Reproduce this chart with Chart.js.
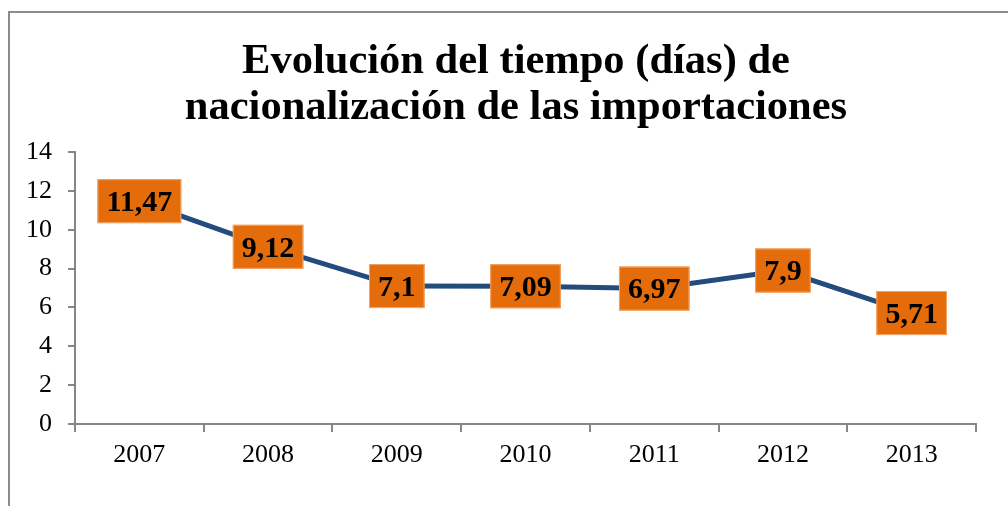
<!DOCTYPE html>
<html lang="es">
<head>
  <meta charset="UTF-8">
  <title>Evolución del tiempo de nacionalización</title>
  <script src="https://cdn.jsdelivr.net/npm/chart.js"></script>
  <style>
    html, body {
      margin: 0;
      padding: 0;
      background: #fff;
      overflow: hidden;
    }
    .frame {
      position: absolute;
      left: 8px;
      top: 11px;
      width: 1100px;
      height: 600px;
      border-left: 2px solid #8c8c8c;
      border-top: 2px solid #8c8c8c;
    }
    .wrap {
      position: absolute;
      left: 0;
      top: 0;
      width: 1008px;
      height: 506px;
    }
  </style>
</head>
<body>
  <div class="frame"></div>
  <div class="wrap"><canvas id="chart"></canvas></div>

  <script>
    const years = ['2007', '2008', '2009', '2010', '2011', '2012', '2013'];
    const days = [11.47, 9.12, 7.1, 7.09, 6.97, 7.9, 5.71];
    const dayLabels = ['11,47', '9,12', '7,1', '7,09', '6,97', '7,9', '5,71'];
    const yTicks = [0, 2, 4, 6, 8, 10, 12, 14];
    const titleLines = ['Evolución del tiempo (días) de', 'nacionalización de las importaciones'];

    const serif = '"Liberation Serif", "Times New Roman", serif';
    const axisGray = '#868686';

    // two-line title, sits a little right of centre like the original
    const titleText = {
      id: 'titleText',
      afterDraw(chart) {
        const ctx = chart.ctx;
        ctx.save();
        ctx.font = 'bold 42.5px ' + serif;
        ctx.fillStyle = '#000';
        ctx.textAlign = 'center';
        ctx.textBaseline = 'alphabetic';
        titleLines.forEach((t, i) => ctx.fillText(t, 516, 73 + i * 46));
        ctx.restore();
      }
    };

    // orange boxes with the values, centred on each point
    const boxLabels = {
      id: 'boxLabels',
      afterDatasetsDraw(chart) {
        const ctx = chart.ctx;
        const meta = chart.getDatasetMeta(0);
        ctx.save();
        ctx.font = 'bold 30px ' + serif;
        ctx.textAlign = 'center';
        ctx.textBaseline = 'middle';
        meta.data.forEach((pt, i) => {
          const txt = dayLabels[i];
          const w = ctx.measureText(txt).width + 18;
          const h = 44;
          ctx.fillStyle = '#E46C0A';
          ctx.fillRect(pt.x - w / 2, pt.y - h / 2, w, h);
          ctx.strokeStyle = '#F2A66A';
          ctx.lineWidth = 1;
          ctx.strokeRect(pt.x - w / 2 + 0.5, pt.y - h / 2 + 0.5, w - 1, h - 1);
          ctx.fillStyle = '#000';
          ctx.fillText(txt, pt.x, pt.y + 2);
        });
        ctx.restore();
      }
    };

    new Chart(document.getElementById('chart'), {
      type: 'line',
      data: {
        labels: years,
        datasets: [{
          data: days,
          borderColor: '#234B7E',
          borderWidth: 5,
          pointRadius: 0,
          tension: 0,
          fill: false
        }]
      },
      options: {
        responsive: true,
        maintainAspectRatio: false,
        animation: false,
        layout: { padding: { left: 0, right: 32, top: 152, bottom: 0 } },
        plugins: {
          legend: { display: false },
          tooltip: { enabled: false },
          title: { display: false }
        },
        scales: {
          x: {
            offset: true,
            grid: { offset: true, drawOnChartArea: false, tickLength: 8, color: axisGray, lineWidth: 2 },
            border: { color: axisGray, width: 2 },
            ticks: { color: '#000', font: { family: serif, size: 26 }, padding: 8, maxRotation: 0 },
            afterFit(s) { s.height = 82; }
          },
          y: {
            min: 0,
            max: 14,
            afterBuildTicks(s) { s.ticks = yTicks.map(v => ({ value: v })); },
            grid: { drawOnChartArea: false, tickLength: 7, color: axisGray, lineWidth: 2 },
            border: { color: axisGray, width: 2 },
            ticks: { color: '#000', font: { family: serif, size: 26 }, padding: 16 },
            afterFit(s) { s.width = 75; }
          }
        }
      },
      plugins: [boxLabels, titleText]
    });
  </script>
</body>
</html>
